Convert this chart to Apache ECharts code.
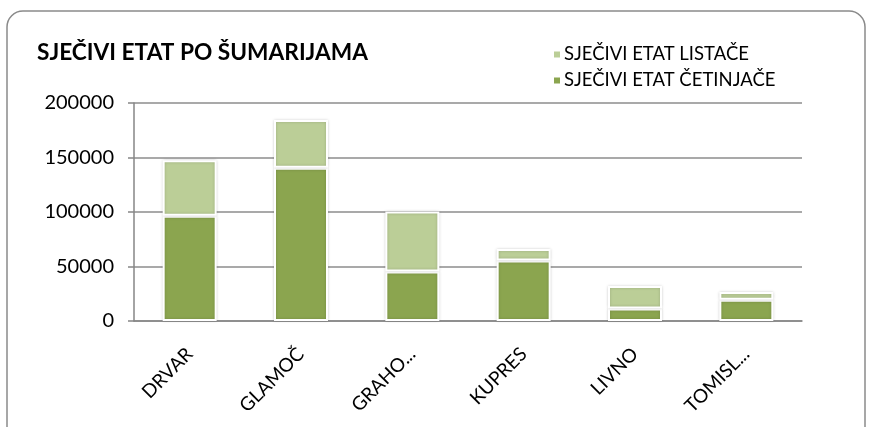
<!DOCTYPE html>
<html>
<head>
<meta charset="utf-8">
<script src="https://cdn.jsdelivr.net/npm/echarts@6/dist/echarts.min.js"></script>
<style>
  html, body { margin: 0; padding: 0; background: #fff; }
  #chart { width: 871px; height: 427px; }
</style>
</head>
<body>
<div id="chart"></div>
<script>
// šumarije
const categories = ['DRVAR', 'GLAMOČ', 'GRAHO...', 'KUPRES', 'LIVNO', 'TOMISL...'];
// sječivi etat četinjače (donji dio)
const cetinjace = [96500, 140500, 45500, 55500, 11500, 19500];
// sječivi etat listače (gornji dio)
const listace = [51000, 44000, 55000, 10500, 20500, 7000];
const yTicks = [0, 50000, 100000, 150000, 200000];

const darkGreen = '#8ba54f';
const lightGreen = '#bbce97';
const font = 'Lato, "Open Sans", sans-serif';

const chart = echarts.init(document.getElementById('chart'));

const barStyle = function (color) {
  return {
    color: color,
    borderColor: '#ffffff',
    borderWidth: 2,
    shadowColor: 'rgba(0,0,0,0.18)',
    shadowBlur: 3
  };
};

const option = {
  animation: false,
  // okvir
  graphic: [{
    type: 'rect',
    shape: { x: 7, y: 11, width: 858, height: 440, r: 16 },
    style: { fill: 'none', stroke: '#8a8a8a', lineWidth: 1.5 },
    z: 0
  }],
  title: {
    text: 'SJEČIVI ETAT PO ŠUMARIJAMA',
    left: 32,
    top: 36,
    textStyle: { fontFamily: font, fontWeight: 'bold', fontSize: 22.7, color: '#000' }
  },
  legend: {
    orient: 'vertical',
    left: 547,
    top: 40,
    itemWidth: 8,
    itemHeight: 8,
    itemGap: 7,
    icon: 'rect',
    data: ['SJEČIVI ETAT LISTAČE', 'SJEČIVI ETAT ČETINJAČE'],
    textStyle: { fontFamily: font, fontSize: 18.5, color: '#000', padding: [0, 0, 0, -2] }
  },
  grid: { left: 134, right: 69, top: 103, bottom: 106 },
  xAxis: {
    type: 'category',
    data: categories,
    axisLine: { lineStyle: { color: '#868686', width: 1.5 } },
    axisTick: { length: 6, lineStyle: { color: '#868686', width: 1.5 } },
    axisLabel: {
      rotate: 45,
      margin: 30,
      interval: 0,
      fontFamily: font,
      fontSize: 19,
      color: '#000'
    }
  },
  yAxis: {
    type: 'value',
    min: yTicks[0],
    max: yTicks[yTicks.length - 1],
    interval: yTicks[1] - yTicks[0],
    axisLine: { show: true, lineStyle: { color: '#868686', width: 1.5 } },
    axisTick: { show: true, length: 6, lineStyle: { color: '#868686', width: 1.5 } },
    splitLine: { lineStyle: { color: '#8c8c8c', width: 1.5 } },
    axisLabel: {
      margin: 20,
      fontFamily: font,
      fontSize: 20,
      color: '#000',
      formatter: function (v) { return String(v); }
    }
  },
  series: [
    {
      name: 'SJEČIVI ETAT ČETINJAČE',
      type: 'bar',
      stack: 'etat',
      barWidth: 54,
      data: cetinjace,
      itemStyle: barStyle(darkGreen)
    },
    {
      name: 'SJEČIVI ETAT LISTAČE',
      type: 'bar',
      stack: 'etat',
      barWidth: 54,
      data: listace,
      itemStyle: barStyle(lightGreen)
    }
  ]
};

chart.setOption(option);
</script>
</body>
</html>
